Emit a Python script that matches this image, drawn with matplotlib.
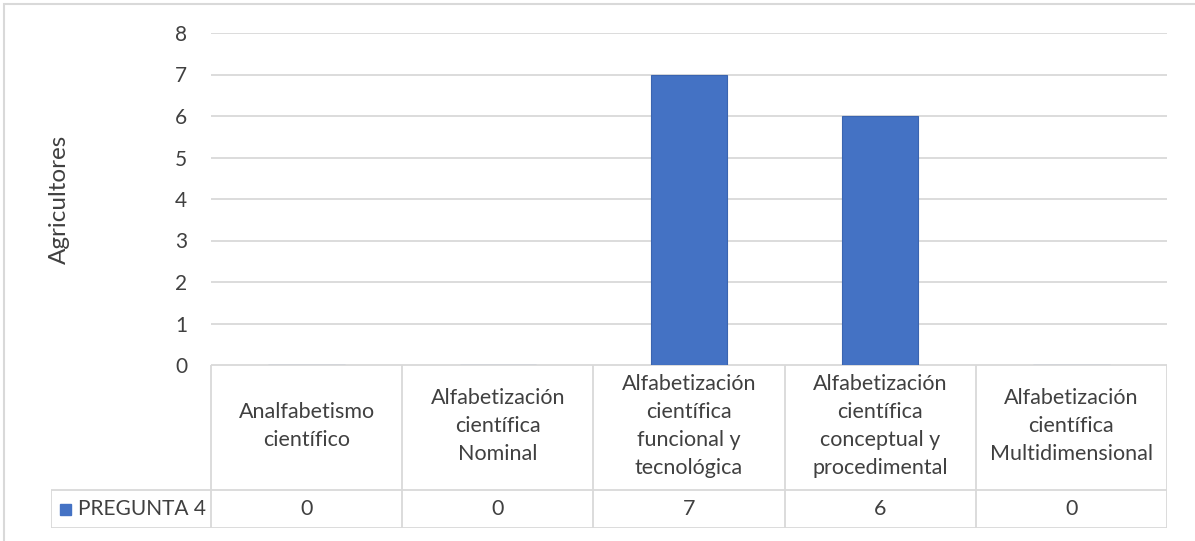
# Excel-style column chart with a data table under it
import matplotlib.pyplot as plt
from matplotlib.patches import Rectangle

categories = [
    "Analfabetismo\ncientífico",
    "Alfabetización\ncientífica\nNominal",
    "Alfabetización\ncientífica\nfuncional y\ntecnológica",
    "Alfabetización\ncientífica\nconceptual y\nprocedimental",
    "Alfabetización\ncientífica\nMultidimensional",
]
series_name = "PREGUNTA 4"
values = [0, 0, 7, 6, 0]
y_ticks = [0, 1, 2, 3, 4, 5, 6, 7, 8]

W, H = 1195, 541
blue = "#4472c4"
grid = "#d9d9d9"
txt = "#404040"
plt.rcParams["font.family"] = ["Lato", "DejaVu Sans"]

fig = plt.figure(figsize=(W / 100, H / 100), dpi=100)

# plot area in pixels
x0, x1 = 211, 1167
y_top, y_zero = 33, 365
ax = fig.add_axes([x0 / W, 1 - y_zero / H, (x1 - x0) / W, (y_zero - y_top) / H])
n = len(categories)
ax.bar(range(n), values, width=0.4, color=blue, edgecolor="#3a64b0", linewidth=0.8, zorder=3)
ax.set_xlim(-0.5, n - 0.5)
ax.set_ylim(0, 8)
ax.set_yticks(y_ticks)
ax.tick_params(axis="y", length=0, pad=17, labelsize=15, labelcolor=txt)
ax.set_xticks([])
ax.yaxis.grid(True, color=grid, linewidth=1.3)
ax.set_axisbelow(True)
for s in ax.spines.values():
    s.set_visible(False)
ax.set_ylabel("Agricultores", fontsize=17.5, color=txt, labelpad=0)
ax.yaxis.set_label_coords(-0.148, 0.5)

# data table
lx = 51
col_w = (x1 - x0) / n
tx = fig.add_axes([lx / W, 1 - 528 / H, (x1 - lx) / W, (528 - y_zero) / H])
left = -(x0 - lx) / col_w
tx.set_xlim(left - 0.5, n - 0.5)
tx.set_ylim(0, 528 - y_zero)
tx.axis("off")
row_h = 528 - 490
hdr_top = 528 - y_zero
lk = dict(color=grid, linewidth=1.3, solid_capstyle="butt")
for i in range(n + 1):
    tx.plot([i - 0.5, i - 0.5], [0, hdr_top], **lk)
tx.plot([left - 0.5, left - 0.5], [0, row_h], **lk)
tx.plot([left - 0.5, n - 0.5], [0, 0], **lk)
tx.plot([left - 0.5, n - 0.5], [row_h, row_h], **lk)
tx.plot([-0.5, n - 0.5], [hdr_top, hdr_top], **lk)
for i, (c, v) in enumerate(zip(categories, values)):
    tx.text(i, (row_h + hdr_top) / 2 + 1, c, ha="center", va="center", fontsize=15.5,
            color=txt, linespacing=1.5)
    tx.text(i, row_h / 2, str(v), ha="center", va="center", fontsize=15.5, color=txt)
sq = 11 / col_w
tx.add_patch(Rectangle((left - 0.5 + 9 / col_w, row_h / 2 - 5.5), sq, 11, color=blue, clip_on=False))
tx.text(left - 0.5 + 27 / col_w, row_h / 2, series_name, ha="left", va="center",
        fontsize=15, color=txt)

# chart border
fig.patches.append(Rectangle((4 / W, -0.01), 1.1, 1 - 4 / H + 0.01, transform=fig.transFigure,
                             fill=False, edgecolor=grid, linewidth=1.5))

fig.savefig("out.png", dpi=100)
